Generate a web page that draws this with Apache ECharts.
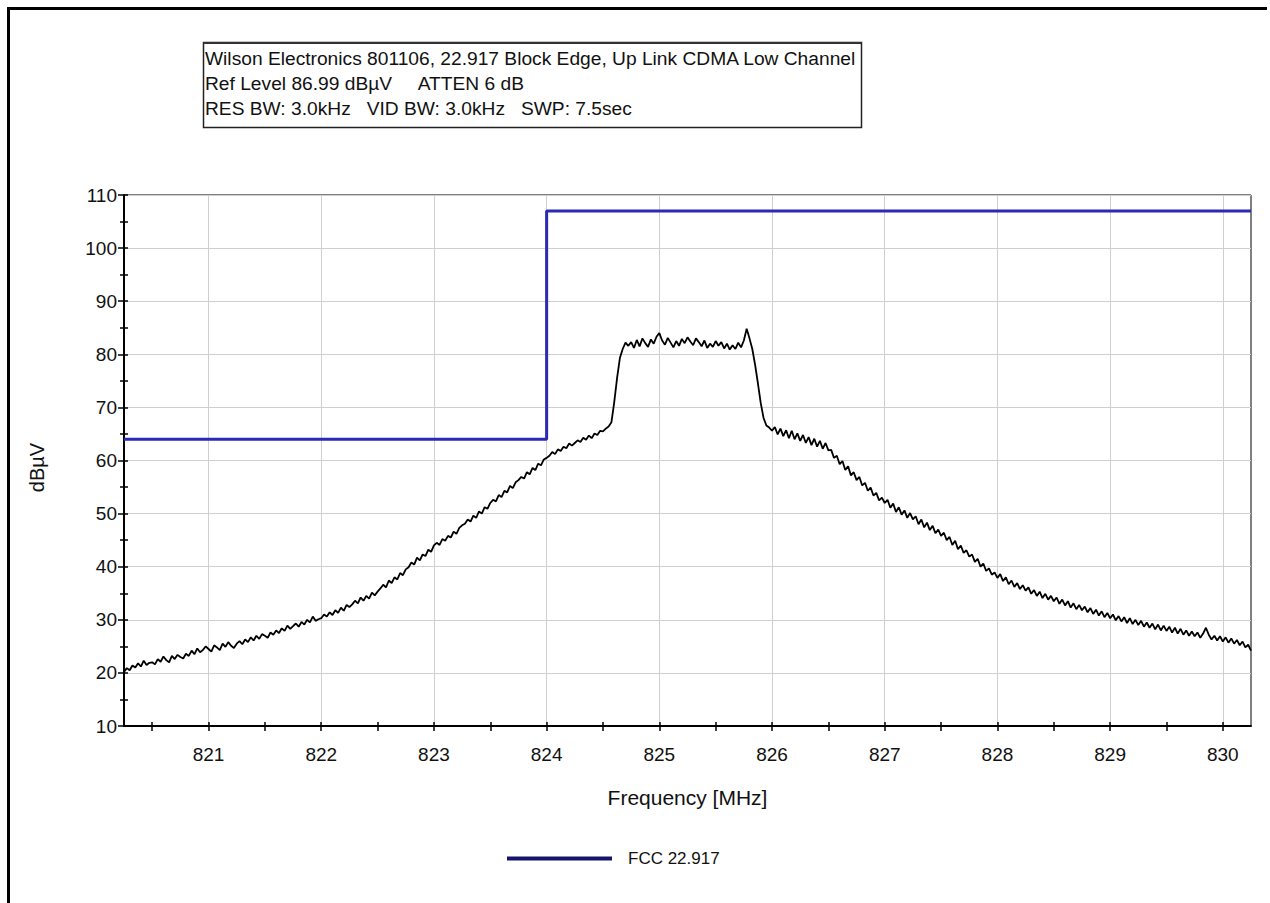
<!DOCTYPE html>
<html>
<head>
<meta charset="utf-8">
<title>Wilson Electronics 801106 Block Edge</title>
<script src="https://cdn.jsdelivr.net/npm/echarts@6/dist/echarts.min.js"></script>
<style>
  html, body { margin: 0; padding: 0; background: #fff; }
  #chart { width: 1270px; height: 903px; }
</style>
</head>
<body>
<div id="chart"></div>
<script>
// Spectrum analyser sweep: first point, point spacing (MHz) and measured levels (dBµV)
const sweepStartMHz = 820.25;
const sweepStepMHz = 0.025;
const traceLevels = [
  20.2, 20.9, 20.5, 21.4, 21.0, 21.8, 21.2, 22.3, 21.5, 21.9, 22.0,
  21.6, 22.6, 22.1, 23.1, 22.4, 22.0, 23.2, 22.6, 23.4, 23.0,
  22.7, 23.6, 23.2, 24.2, 23.5, 24.6, 23.9, 24.3, 25.0, 24.5,
  24.0, 25.2, 24.8, 24.3, 25.5, 24.9, 25.8, 25.1, 24.7, 25.5,
  26.0, 25.4, 26.3, 25.8, 26.7, 26.1, 27.0, 26.4, 27.3, 27.0,
  26.6, 27.6, 27.2, 28.0, 27.5, 28.4, 27.9, 28.9, 28.3, 28.8,
  29.3, 28.7, 29.6, 29.1, 30.0, 29.5, 30.6, 29.8, 30.1, 30.3,
  31.0, 30.6, 31.4, 30.9, 31.8, 31.3, 32.3, 31.7, 32.8, 32.4,
  32.9, 33.6, 33.1, 34.2, 33.6, 34.5, 34.0, 35.1, 34.6, 35.3,
  35.9, 36.6, 36.1, 37.4, 36.9, 38.0, 37.6, 38.8, 38.4, 39.5,
  39.9, 40.8, 40.4, 41.7, 41.2, 42.3, 42.0, 43.2, 42.8, 44.0,
  44.5, 44.1, 45.2, 44.9, 45.8, 45.5, 46.6, 46.2, 47.3, 47.8,
  48.1, 48.9, 48.5, 49.6, 49.2, 50.4, 50.0, 51.2, 50.9, 52.0,
  52.6, 52.3, 53.5, 53.1, 54.3, 54.0, 55.2, 54.8, 55.9, 56.3,
  56.9, 56.6, 57.8, 57.4, 58.6, 58.2, 59.4, 59.1, 60.2, 60.5,
  60.9, 61.6, 61.2, 62.1, 61.8, 62.6, 62.3, 63.2, 62.8, 63.3,
  63.8, 63.5, 64.3, 63.9, 64.7, 64.2, 65.1, 64.8, 65.6, 65.5,
  66.0, 66.4, 67.2, 71.0, 75.5, 79.3, 81.0, 82.2, 81.6, 82.3,
  81.2, 82.7, 81.5, 83.0, 82.1, 81.4, 82.8, 82.0, 83.3, 84.0,
  82.6, 81.8, 83.1, 82.2, 81.3, 82.5, 81.6, 82.9, 82.1, 83.2,
  82.4, 81.7, 83.0, 82.3, 81.5, 82.6, 81.2, 82.0, 81.4, 82.5,
  81.6, 82.3, 81.1, 82.0, 80.9, 81.7, 81.0, 82.2, 81.3, 82.6,
  84.8, 83.0, 81.0, 78.0, 74.5, 70.8, 68.0, 66.6, 66.2, 65.6,
  66.3, 64.9, 66.0, 64.6, 65.7, 64.2, 65.6, 64.0, 65.1, 63.7,
  64.8, 63.3, 64.4, 62.9, 64.1, 62.6, 63.7, 62.2, 63.3, 61.9,
  62.0, 60.5, 60.9, 59.3, 59.9, 58.2, 58.9, 57.2, 57.8, 56.3,
  56.9, 55.3, 55.8, 54.3, 54.9, 53.4, 53.9, 52.5, 53.0, 52.0,
  52.6, 51.1, 51.9, 50.3, 51.2, 49.8, 50.6, 49.2, 50.1, 48.9,
  49.5, 48.0, 48.9, 47.4, 48.3, 46.9, 47.7, 46.3, 47.0, 45.8,
  46.4, 45.0, 45.6, 44.1, 44.9, 43.3, 44.0, 42.6, 43.1, 41.9,
  42.3, 40.9, 41.5, 40.0, 40.6, 39.2, 39.7, 38.5, 38.9, 37.9,
  38.6, 37.3, 38.0, 36.7, 37.4, 36.2, 36.9, 35.8, 36.5, 35.5,
  36.1, 34.9, 35.6, 34.5, 35.3, 34.1, 34.9, 33.8, 34.5, 33.5,
  34.2, 33.0, 33.8, 32.7, 33.5, 32.3, 33.1, 32.0, 32.8, 31.8,
  32.5, 31.4, 32.2, 31.1, 31.9, 30.8, 31.6, 30.5, 31.3, 30.3,
  31.0, 29.9, 30.7, 29.7, 30.5, 29.4, 30.3, 29.2, 30.0, 29.0,
  29.8, 28.7, 29.5, 28.5, 29.3, 28.2, 29.1, 28.0, 28.9, 27.9,
  28.7, 27.6, 28.5, 27.4, 28.3, 27.2, 28.0, 27.0, 27.8, 26.9,
  27.6, 26.6, 27.4, 28.5, 27.2, 26.3, 27.0, 26.1, 26.9, 25.9,
  26.7, 25.7, 26.5, 25.5, 26.2, 25.2, 25.9, 24.8, 25.3, 24.2
];

// FCC 22.917 emission limit (stepped mask)
const limitName = 'FCC 22.917';
const limitFreqs = [820.25, 824, 824, 830.25];
const limitLevels = [64, 64, 107, 107];

// Axis ranges and tick positions
const freqMin = 820.25;
const freqMax = 830.25;
const freqMajorTicks = [821, 822, 823, 824, 825, 826, 827, 828, 829, 830];
const freqAllTicks = [820.5, 821, 821.5, 822, 822.5, 823, 823.5, 824, 824.5, 825,
  825.5, 826, 826.5, 827, 827.5, 828, 828.5, 829, 829.5, 830];
const levelMin = 10;
const levelMax = 110;

const headerLines = [
  'Wilson Electronics 801106, 22.917 Block Edge, Up Link CDMA Low Channel',
  'Ref Level 86.99 dBµV     ATTEN 6 dB',
  'RES BW: 3.0kHz   VID BW: 3.0kHz   SWP: 7.5sec'
];

const FONT = '"Liberation Sans", Arial, sans-serif';
const INK = '#111';

const traceData = traceLevels.map((v, i) => [+(sweepStartMHz + i * sweepStepMHz).toFixed(3), v]);
const limitData = limitFreqs.map((f, i) => [f, limitLevels[i]]);

const chart = echarts.init(document.getElementById('chart'), null, { renderer: 'svg' });

const baseX = {
  type: 'value', min: freqMin, max: freqMax, position: 'bottom',
  axisLine: { show: false }, axisLabel: { show: false },
  axisTick: { show: false }, splitLine: { show: false }
};

chart.setOption({
  animation: false,
  backgroundColor: '#fff',
  grid: {
    left: 124, right: 19, top: 195, bottom: 177,
    show: true, borderColor: '#000', borderWidth: 1, backgroundColor: 'transparent'
  },
  xAxis: [
    Object.assign({}, baseX, {
      name: 'Frequency [MHz]', nameLocation: 'middle', nameGap: 61,
      nameTextStyle: { fontFamily: FONT, fontSize: 21, color: INK },
      axisLine: { show: true, lineStyle: { color: '#000', width: 2 } },
      axisTick: { show: true, inside: false, length: 5, customValues: freqAllTicks,
        lineStyle: { color: '#000', width: 1.5 } },
      axisLabel: { show: true, customValues: freqMajorTicks, margin: 19,
        fontFamily: FONT, fontSize: 19, color: INK }
    }),
    Object.assign({}, baseX, {
      axisTick: { show: true, inside: true, length: 4, customValues: freqAllTicks,
        lineStyle: { color: '#000', width: 1.5 } }
    }),
    Object.assign({}, baseX, {
      axisTick: { show: false, customValues: freqMajorTicks },
      splitLine: { show: true, lineStyle: { color: '#cfcfcf', width: 1 } }
    })
  ],
  yAxis: [
    {
      type: 'value', min: levelMin, max: levelMax, interval: 10, position: 'left',
      name: 'dBµV', nameLocation: 'middle', nameGap: 77, nameRotate: 90,
      nameTextStyle: { fontFamily: FONT, fontSize: 20, color: INK, padding: [0, 14, 0, 0] },
      axisLine: { show: true, lineStyle: { color: '#000', width: 2 } },
      axisTick: { show: true, inside: false, length: 6, lineStyle: { color: '#000', width: 1.5 } },
      minorTick: { show: true, splitNumber: 2, length: 4, lineStyle: { color: '#000', width: 1.5 } },
      axisLabel: { margin: 7, fontFamily: FONT, fontSize: 19, color: INK },
      splitLine: { show: true, lineStyle: { color: '#cfcfcf', width: 1 } }
    },
    {
      type: 'value', min: levelMin, max: levelMax, interval: 5, position: 'left',
      axisLine: { show: false }, axisLabel: { show: false }, splitLine: { show: false },
      axisTick: { show: true, inside: true, length: 4, lineStyle: { color: '#000', width: 1.5 } }
    }
  ],
  legend: {
    left: 507, top: 850, padding: 0,
    data: [{ name: limitName, icon: 'rect', itemStyle: { color: '#14146a' } }],
    itemWidth: 105, itemHeight: 4,
    textStyle: { fontFamily: FONT, fontSize: 17, color: INK, padding: [0, 0, 0, 11] }
  },
  graphic: [
    // outer frame
    { type: 'rect', silent: true, shape: { x: 7, y: 7, width: 1260, height: 3 }, style: { fill: '#000' } },
    { type: 'rect', silent: true, shape: { x: 7, y: 7, width: 3, height: 896 }, style: { fill: '#000' } },
    // header box
    { type: 'rect', silent: true, shape: { x: 203.5, y: 42.5, width: 658, height: 85 },
      style: { fill: '#fff', stroke: '#222', lineWidth: 1.5 } },
    { type: 'rect', silent: true, shape: { x: 203.5, y: 42, width: 658, height: 2 }, style: { fill: '#333' } },
    ...headerLines.map((t, i) => ({
      type: 'text', silent: true, x: 205, y: 58 + i * 25,
      style: { text: t, fontFamily: FONT, fontSize: 19.2, fill: INK, verticalAlign: 'middle' }
    }))
  ],
  series: [
    {
      name: 'Trace', type: 'line', xAxisIndex: 0, yAxisIndex: 0,
      data: traceData, showSymbol: false, symbol: 'none',
      lineStyle: { color: '#000', width: 1.8 }, z: 3
    },
    {
      name: limitName, type: 'line', xAxisIndex: 0, yAxisIndex: 0,
      data: limitData, showSymbol: false, symbol: 'none',
      itemStyle: { color: '#14146a' },
      lineStyle: { color: '#2a2ab4', width: 3 }, z: 4
    }
  ]
});
</script>
</body>
</html>
